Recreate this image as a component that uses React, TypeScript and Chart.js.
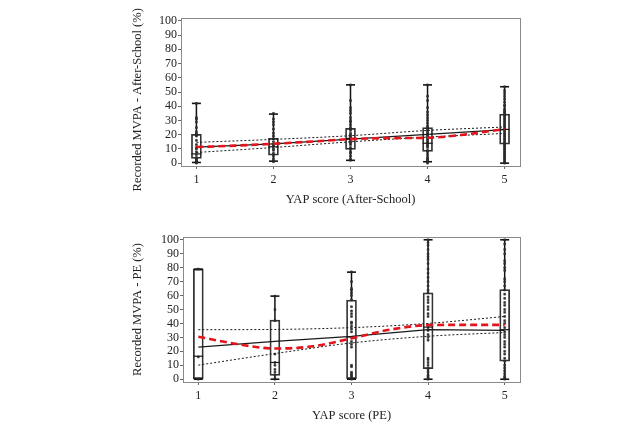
import React, { useEffect, useRef } from 'react';
import { Chart, registerables } from 'chart.js';

Chart.register(...registerables);

const SERIF = "'Liberation Serif', 'Times New Roman', serif";

// ---------- shared axes ----------
const categories = [1, 2, 3, 4, 5];
const xTickLabels = ['1', '2', '3', '4', '5'];
const yTickValues = [0, 10, 20, 30, 40, 50, 60, 70, 80, 90, 100];
const smoothX = [1, 1.5, 2, 2.5, 3, 3.5, 4, 4.5, 5];

// ---------- After-School ----------
const asWhiskerLow = [0.5, 1.4, 2, 1, 0];
const asQ1 = [3.3, 5.6, 9.6, 8.3, 13.4];
const asMedian = [6.5, 11.5, 17.4, 14, 23.7];
const asQ3 = [20.2, 17.4, 24.4, 25, 34.5];
const asWhiskerHigh = [42, 34.5, 55, 55, 53.7];
const asPts1 = [0, 0.5, 1, 1.5, 2, 3, 4, 6, 8, 10, 11, 13, 16, 19, 20, 20.5, 22, 25, 29, 31, 32, 42];
const asPts2 = [1, 1.5, 3, 5, 7, 9, 10, 12, 13, 15, 17, 19, 21, 24, 27, 29, 31, 35];
const asPts3 = [2, 3, 5, 7, 8, 10, 11, 13, 14, 15, 16, 17, 18, 19, 20, 21, 23, 24, 25, 27, 29, 30, 32, 35, 37, 39, 44, 55];
const asPts4 = [0, 1, 2, 3, 4, 6, 8, 9, 11, 12, 13, 14, 15, 16, 17, 18, 19, 20, 21, 22, 23, 24, 25, 26, 28, 30, 32, 34, 36, 39, 44, 47, 55];
const asPts5 = [0, 1, 2, 3, 4, 5, 6, 7, 8, 9, 10, 11, 12, 13, 14, 15, 16, 17, 18, 19, 20, 21, 22, 23, 24, 25, 26, 27, 28, 29, 30, 31, 32, 33, 34, 35, 36, 37, 38, 40, 41, 43, 45, 47, 49, 51, 53.7];
const asFit = [11.3, 13.6, 16.9, 20.2, 23.5];
const asUpper = [14.6, 16.7, 19.3, 23, 25.4];
const asLower = [7.5, 11, 15, 18.3, 20.9];
const asSmooth = [11.3, 12.3, 13.6, 15.2, 16.9, 17.6, 17.8, 20.2, 24];

// ---------- PE ----------
const peWhiskerLow = [0, 0, 0, 0, 0];
const peQ1 = [0, 2.8, 0, 7.6, 13];
const peMedian = [16.5, 12, 30.3, 37.4, 35.5];
const peQ3 = [79, 42.5, 56.7, 62, 64.3];
const peWhiskerHigh = [79, 59.6, 76.8, 100, 100];
const pePts1 = [0, 16, 79];
const pePts2 = [0, 0.5, 3, 5, 7, 10, 12, 18, 42, 50, 59.6];
const pePts3 = [0, 1, 2, 3, 4, 5, 9, 10, 23, 25, 27, 30, 34, 36, 38, 40, 41, 45, 47, 49, 52, 57, 60, 62, 64, 65, 70, 77];
const pePts4 = [0, 1, 2, 3, 5, 7, 8, 10, 12, 14, 15, 28, 30, 32, 35, 37, 39, 45, 47, 50, 52, 55, 57, 59, 62, 64, 67, 70, 73, 76, 79, 83, 86, 88, 90, 93, 96, 98, 100];
const pePts5 = [0, 1, 2, 4, 6, 8, 10, 13, 15, 18, 20, 23, 25, 27, 30, 32, 34, 37, 40, 42, 45, 48, 50, 53, 55, 58, 61, 64, 67, 70, 72, 78, 80, 83, 85, 90, 93, 97, 100];
const peFit = [23, 27.2, 30.7, 35.5, 35];
const peUpper = [35.5, 35.7, 37, 40, 45];
const peLower = [10.1, 18.4, 26, 30.8, 33.5];
const peSmooth = [30.5, 25.3, 22, 23.6, 29.3, 35.5, 38.8, 39, 39];

type Series = {
  lo: number[]; q1: number[]; med: number[]; q3: number[]; hi: number[];
  pts: number[][]; fit: number[]; upper: number[]; lower: number[]; smooth: number[];
};

const asSeries: Series = {
  lo: asWhiskerLow, q1: asQ1, med: asMedian, q3: asQ3, hi: asWhiskerHigh,
  pts: [asPts1, asPts2, asPts3, asPts4, asPts5],
  fit: asFit, upper: asUpper, lower: asLower, smooth: asSmooth,
};
const peSeries: Series = {
  lo: peWhiskerLow, q1: peQ1, med: peMedian, q3: peQ3, hi: peWhiskerHigh,
  pts: [pePts1, pePts2, pePts3, pePts4, pePts5],
  fit: peFit, upper: peUpper, lower: peLower, smooth: peSmooth,
};

const framePlugin = {
  id: 'frame',
  afterDraw(chart: any) {
    const { ctx, chartArea: a } = chart;
    ctx.save();
    ctx.strokeStyle = '#8a8a8a';
    ctx.lineWidth = 1;
    ctx.strokeRect(Math.round(a.left) + 0.5, Math.round(a.top) + 0.5, Math.round(a.right - a.left), Math.round(a.bottom - a.top));
    ctx.restore();
  },
};

type Props = {
  s: Series; yTitle: string; xTitle: string;
  height: number; top: number;
  pad: { left: number; right: number; top: number; bottom: number };
  yWidth: number; xHeight: number;
};

function BoxChart({ s, yTitle, xTitle, height, top, pad, yWidth, xHeight }: Props) {
  const ref = useRef<HTMLCanvasElement | null>(null);
  useEffect(() => {
    if (!ref.current) return;
    const whiskers: any[] = [];
    categories.forEach((x, i) => {
      whiskers.push({ x, y: s.lo[i] }, { x, y: s.q1[i] }, { x, y: null });
      whiskers.push({ x, y: s.q3[i] }, { x, y: s.hi[i] }, { x, y: null });
    });
    const caps: any[] = [];
    categories.forEach((x, i) => {
      caps.push({ x, y: s.lo[i] }, { x, y: s.hi[i] });
    });
    const pts = categories.flatMap((x, i) => s.pts[i].map((v) => ({ x, y: v })));
    const line = (arr: number[], xs: number[]) => xs.map((x, i) => ({ x, y: arr[i] }));

    const chart = new Chart(ref.current, {
      type: 'scatter',
      data: {
        datasets: [
          {
            type: 'scatter', label: 'smooth', data: line(s.smooth, smoothX), showLine: true,
            borderColor: '#e3141b', borderWidth: 2.6, borderDash: [7, 4], pointRadius: 0,
            tension: 0.4, cubicInterpolationMode: 'monotone', fill: false,
          } as any,
          {
            type: 'scatter', label: 'fit', data: line(s.fit, categories), showLine: true,
            borderColor: '#1a1a1a', borderWidth: 1.2, pointRadius: 0, fill: false,
          } as any,
          {
            type: 'scatter', label: 'upper', data: line(s.upper, categories), showLine: true,
            borderColor: '#1a1a1a', borderWidth: 1, borderDash: [2, 2], pointRadius: 0,
            tension: 0.3, cubicInterpolationMode: 'monotone', fill: false,
          } as any,
          {
            type: 'scatter', label: 'lower', data: line(s.lower, categories), showLine: true,
            borderColor: '#1a1a1a', borderWidth: 1, borderDash: [2, 2], pointRadius: 0,
            tension: 0.3, cubicInterpolationMode: 'monotone', fill: false,
          } as any,
          {
            type: 'scatter', label: 'median', data: line(s.med, categories),
            pointStyle: 'line', pointRadius: 5, pointBorderWidth: 1.2,
            pointBorderColor: '#1a1a1a', pointBackgroundColor: '#1a1a1a',
          } as any,
          {
            type: 'scatter', label: 'points', data: pts,
            pointStyle: 'rect', pointRadius: 1.3, pointBorderWidth: 0.6,
            pointBackgroundColor: '#3a3a3a', pointBorderColor: '#222',
          } as any,
          {
            type: 'scatter', label: 'caps', data: caps,
            pointStyle: 'line', pointRadius: 4.5, pointBorderWidth: 1.6,
            pointBorderColor: '#111',
          } as any,
          {
            type: 'scatter', label: 'whiskers', data: whiskers, showLine: true, spanGaps: false,
            borderColor: '#111', borderWidth: 1.5, pointRadius: 0, fill: false,
          } as any,
          {
            type: 'bar', label: 'box', data: categories.map((x, i) => ({ x, y: [s.q1[i], s.q3[i]] })),
            backgroundColor: 'rgba(255,255,255,0)', borderColor: '#333', borderWidth: 1.1,
            borderSkipped: false, barThickness: 10,
          } as any,
        ],
      },
      options: {
        animation: false,
        responsive: false,
        devicePixelRatio: 1,
        events: [],
        layout: { padding: pad },
        plugins: { legend: { display: false }, tooltip: { enabled: false } },
        scales: {
          x: {
            type: 'linear', min: 0.8, max: 5.2, offset: false,
            afterBuildTicks: (sc: any) => { sc.ticks = categories.map((v) => ({ value: v })); },
            afterFit: (sc: any) => { sc.height = xHeight; },
            ticks: {
              callback: (v: any) => xTickLabels[categories.indexOf(Number(v))] ?? '',
              font: { family: SERIF, size: 12 }, color: '#222', padding: 4, maxRotation: 0,
              autoSkip: false,
            },
            grid: { display: true, offset: false, drawOnChartArea: false, drawTicks: true, tickLength: 3, color: '#666' },
            border: { display: false },
            title: { display: true, text: xTitle, font: { family: SERIF, size: 12.5 }, color: '#222' },
          },
          y: {
            type: 'linear', min: -2, max: 102,
            afterBuildTicks: (sc: any) => { sc.ticks = yTickValues.map((v) => ({ value: v })); },
            afterFit: (sc: any) => { sc.width = yWidth; },
            ticks: {
              callback: (v: any) => String(v),
              font: { family: SERIF, size: 12 }, color: '#222', padding: 1,
              autoSkip: false,
            },
            grid: { display: true, offset: false, drawOnChartArea: false, drawTicks: true, tickLength: 3, color: '#666' },
            border: { display: false },
            title: { display: true, text: yTitle, font: { family: SERIF, size: 12.5 }, color: '#222' },
          },
        },
      },
      plugins: [framePlugin],
    });
    return () => chart.destroy();
  }, []);
  return (
    <canvas
      ref={ref}
      width={639}
      height={height}
      style={{ position: 'absolute', left: 0, top, width: 639, height, display: 'block' }}
    />
  );
}

export default function App() {
  return (
    <div style={{ position: 'absolute', left: 0, top: 0, width: 639, height: 427, background: '#fff', overflow: 'hidden' }}>
      <BoxChart
        s={asSeries}
        yTitle={'Recorded MVPA - After-School (%)\u00A0\u00A0\u00A0\u00A0\u00A0'}
        xTitle="YAP score (After-School)"
        height={213}
        top={0}
        pad={{ left: 126, right: 119, top: 18, bottom: 2 }}
        yWidth={55}
        xHeight={45}
      />
      <BoxChart
        s={peSeries}
        yTitle="Recorded MVPA - PE (%)"
        xTitle="YAP score (PE)"
        height={214}
        top={213}
        pad={{ left: 126, right: 119, top: 24, bottom: 0 }}
        yWidth={57}
        xHeight={45}
      />
    </div>
  );
}
